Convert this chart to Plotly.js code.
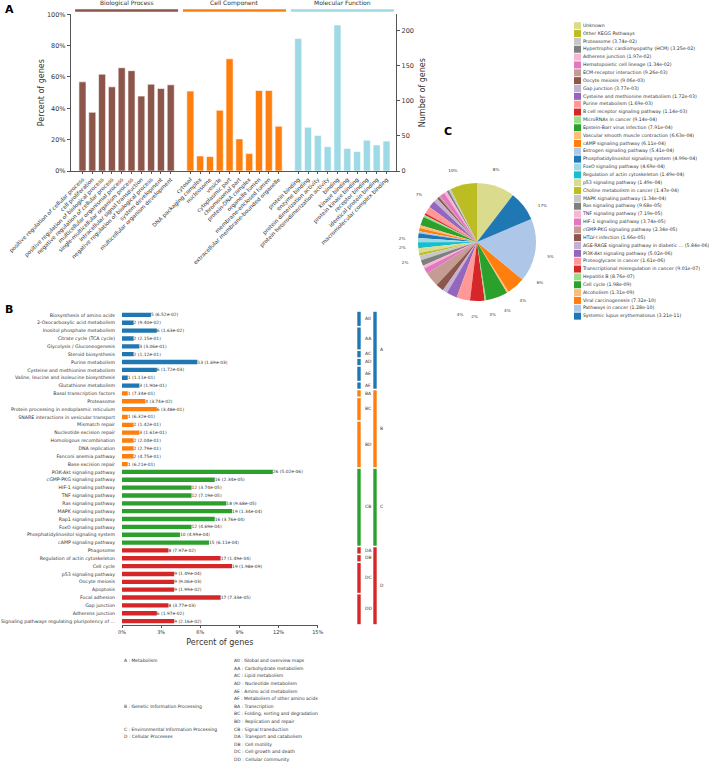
<!DOCTYPE html>
<html><head><meta charset="utf-8">
<script src="https://cdn.plot.ly/plotly-3.0.1.min.js"></script>
<style>html,body{margin:0;padding:0;background:#fff}#chart{width:709px;height:765px}</style>
</head><body><div id="chart"></div>
<script>
// ---------- Panel A : GO terms ----------
const goGroups = ['Biological Process', 'Cell Component', 'Molecular Function'];
const bpTerms = ['positive regulation of cellular process', 'cell proliferation', 'positive regulation of biological process', 'negative regulation of cellular process', 'multicellular organismal process', 'single-multicellular organism process', 'intracellular signal transduction', 'negative regulation of biological process', 'system development', 'multicellular organism development'];
const bpPct = [56.9, 37.5, 61.8, 53.7, 65.9, 64.0, 47.8, 55.4, 52.7, 55.0];
const ccTerms = ['cytosol', 'DNA packaging complex', 'nucleosome', 'vesicle', 'cytoplasmic part', 'chromosomal part', 'protein-DNA complex', 'organelle lumen', 'membrane-enclosed lumen', 'extracellular membrane-bounded organelle'];
const ccPct = [51.0, 9.6, 9.2, 38.8, 71.6, 20.5, 11.1, 51.4, 51.4, 28.6];
const mfTerms = ['protein binding', 'enzyme binding', 'protein dimerization activity', 'protein heterodimerization activity', 'binding', 'kinase binding', 'protein kinase binding', 'receptor binding', 'identical protein binding', 'macromolecular complex binding'];
const mfPct = [84.6, 27.9, 22.6, 15.5, 93.2, 14.4, 12.4, 19.7, 16.6, 19.1];
const pctTicks = [0, 20, 40, 60, 80, 100];
const geneTicks = [0, 50, 100, 150, 200];

// ---------- Panel B : KEGG classification ----------
const keggNames = ['Biosynthesis of amino acids', '2-Oxocarboxylic acid metabolism', 'Inositol phosphate metabolism', 'Citrate cycle (TCA cycle)', 'Glycolysis / Gluconeogenesis', 'Steroid biosynthesis', 'Purine metabolism', 'Cysteine and methionine metabolism', 'Valine, leucine and isoleucine biosynthesis', 'Glutathione metabolism',
  'Basal transcription factors', 'Proteasome', 'Protein processing in endoplasmic reticulum', 'SNARE interactions in vesicular transport', 'Mismatch repair', 'Nucleotide excision repair', 'Homologous recombination', 'DNA replication', 'Fanconi anemia pathway', 'Base excision repair',
  'PI3K-Akt signaling pathway', 'cGMP-PKG signaling pathway', 'HIF-1 signaling pathway', 'TNF signaling pathway', 'Ras signaling pathway', 'MAPK signaling pathway', 'Rap1 signaling pathway', 'FoxO signaling pathway', 'Phosphatidylinositol signaling system', 'cAMP signaling pathway',
  'Phagosome', 'Regulation of actin cytoskeleton', 'Cell cycle', 'p53 signaling pathway', 'Oocyte meiosis', 'Apoptosis', 'Focal adhesion', 'Gap junction', 'Adherens junction', 'Signaling pathways regulating pluripotency of ...'];
const keggCounts = [5, 2, 6, 2, 3, 2, 13, 6, 1, 3, 1, 4, 6, 1, 2, 3, 2, 2, 2, 1, 26, 16, 12, 12, 18, 19, 16, 12, 10, 15, 8, 17, 19, 9, 9, 9, 17, 8, 6, 9];
const keggPval = ['6.52e-02', '9.40e-02', '1.63e-02', '2.15e-01', '3.06e-01', '1.12e-01', '1.69e-03', '1.72e-03', '1.11e-01', '1.90e-01', '7.34e-01', '3.74e-02', '3.48e-01', '6.32e-01', '1.42e-01', '1.61e-01', '2.04e-01', '2.79e-01', '4.75e-01', '6.21e-01', '5.02e-06', '2.34e-05', '3.74e-05', '7.19e-05', '9.68e-05', '1.34e-04', '3.76e-04', '4.69e-04', '4.99e-04', '6.11e-04', '7.97e-02', '1.49e-04', '1.98e-09', '1.49e-04', '9.06e-03', '1.99e-02', '7.33e-05', '3.77e-03', '1.97e-02', '2.16e-02'];
const keggPct = [2.22, 0.89, 2.67, 0.89, 1.33, 0.89, 5.78, 2.67, 0.44, 1.33, 0.44, 1.78, 2.67, 0.44, 0.89, 1.33, 0.89, 0.89, 0.89, 0.44, 11.56, 7.11, 5.33, 5.33, 8.00, 8.44, 7.11, 5.33, 4.44, 6.67, 3.56, 7.56, 8.44, 4.00, 4.00, 4.00, 7.56, 3.56, 2.67, 4.00];
const bTicks = [0, 3, 6, 9, 12, 15];
const level1Codes = ['A', 'B', 'C', 'D'];
const level1Desc = ['Metabolism', 'Genetic Information Processing', 'Environmental Information Processing', 'Cellular Processes'];
const level1Start = [0, 10, 20, 30];
const level1End = [9, 19, 29, 39];
const level2Codes = ['A0', 'AA', 'AC', 'AD', 'AE', 'AF', 'BA', 'BC', 'BD', 'CB', 'DA', 'DB', 'DC', 'DD'];
const level2Desc = ['Global and overview maps', 'Carbohydrate metabolism', 'Lipid metabolism', 'Nucleotide metabolism', 'Amino acid metabolism', 'Metabolism of other amino acids', 'Transcription', 'Folding, sorting and degradation', 'Replication and repair', 'Signal transduction', 'Transport and catabolism', 'Cell motility', 'Cell growth and death', 'Cellular community'];
const level2Start = [0, 2, 5, 6, 7, 9, 10, 11, 14, 20, 30, 31, 32, 36];
const level2End = [1, 4, 5, 6, 8, 9, 10, 13, 19, 29, 30, 31, 35, 39];

// ---------- Panel C : KEGG enrichment pie ----------
const pieNames = ['Unknown', 'Other KEGG Pathways', 'Proteasome (3.74e-02)', 'Hypertrophic cardiomyopathy (HCM) (3.25e-02)', 'Adherens junction (1.97e-02)', 'Hematopoietic cell lineage (1.34e-02)', 'ECM-receptor interaction (9.26e-03)', 'Oocyte meiosis (9.06e-03)', 'Gap junction (3.77e-03)', 'Cysteine and methionine metabolism (1.72e-03)', 'Purine metabolism (1.69e-03)', 'B cell receptor signaling pathway (1.14e-03)', 'MicroRNAs in cancer (9.14e-04)', 'Epstein-Barr virus infection (7.91e-04)', 'Vascular smooth muscle contraction (6.63e-04)', 'cAMP signaling pathway (6.11e-04)', 'Estrogen signaling pathway (5.41e-04)', 'Phosphatidylinositol signaling system (4.99e-04)', 'FoxO signaling pathway (4.69e-04)', 'Regulation of actin cytoskeleton (1.49e-04)', 'p53 signaling pathway (1.49e-04)', 'Choline metabolism in cancer (1.47e-04)', 'MAPK signaling pathway (1.34e-04)', 'Ras signaling pathway (9.68e-05)', 'TNF signaling pathway (7.19e-05)', 'HIF-1 signaling pathway (3.74e-05)', 'cGMP-PKG signaling pathway (2.34e-05)', 'HTLV-I infection (1.66e-05)', 'AGE-RAGE signaling pathway in diabetic ... (5.84e-06)', 'PI3K-Akt signaling pathway (5.02e-06)', 'Proteoglycans in cancer (1.61e-06)', 'Transcriptional misregulation in cancer (9.01e-07)', 'Hepatitis B (8.76e-07)', 'Cell cycle (1.98e-09)', 'Alcoholism (1.31e-09)', 'Viral carcinogenesis (7.32e-10)', 'Pathways in cancer (1.28e-10)', 'Systemic lupus erythematosus (3.21e-11)'];
const pieValues = [10.4, 7.4, 0.6, 0.6, 0.8, 1.4, 0.4, 0.6, 1.2, 1.9, 2.0, 0.5, 0.6, 2.4, 0.8, 0.9, 0.5, 1.3, 1.2, 1.6, 1.3, 0.7, 1.3, 1.6, 0.8, 1.6, 4.0, 2.2, 1.3, 2.9, 3.7, 4.0, 0.4, 6.0, 0.5, 5.0, 17.4, 8.2];
const pieText = ['10%', '7%', '', '', '', '', '', '', '', '2%', '2%', '', '', '2%', '', '', '', '', '', '', '', '', '', '', '', '', '4%', '2%', '', '3%', '4%', '4%', '', '6%', '', '5%', '17%', '8%'];
const tab20 = ['#1f77b4', '#aec7e8', '#ff7f0e', '#ffbb78', '#2ca02c', '#98df8a', '#d62728', '#ff9896', '#9467bd', '#c5b0d5', '#8c564b', '#c49c94', '#e377c2', '#f7b6d2', '#7f7f7f', '#c7c7c7', '#bcbd22', '#dbdb8d', '#17becf', '#9edae5'];

// ---------- styling ----------
const W = 709, H = 765;
const px = x => x / W, py = y => 1 - y / H;
const FONT = 'DejaVu Sans', TXT = '#333', AX = '#555';
const goColors = ['#8c564b', '#ff7f0e', '#9edae5'];
const level1Colors = ['#1f77b4', '#ff7f0e', '#2ca02c', '#d62728'];
const PIE_CX = 477, PIE_CY = 242, PIE_R = 59, LBL_BOX = 1.5;

const traces = [];
const shapes = [];
const annotations = [];

// Panel A bars
const goSets = [[bpTerms, bpPct], [ccTerms, ccPct], [mfTerms, mfPct]];
const aTickVals = [], aTickText = [];
goSets.forEach((s, g) => {
  const xs = s[0].map((_, i) => g * 11 + i);
  aTickVals.push(...xs); aTickText.push(...s[0]);
  traces.push({type: 'bar', x: xs, y: s[1], xaxis: 'x', yaxis: 'y', width: 0.72,
    marker: {color: goColors[g], line: {color: '#fff', width: 0.6}}, name: goGroups[g], showlegend: false});
  shapes.push({type: 'line', xref: 'x', yref: 'paper', x0: g * 11 - 0.75, x1: g * 11 + s[0].length - 0.25,
    y0: py(10.5), y1: py(10.5), line: {color: goColors[g], width: 2.5}});
  annotations.push({xref: 'x', yref: 'paper', x: g * 11 + (s[0].length - 1) / 2, y: py(3), text: goGroups[g],
    showarrow: false, font: {size: 6, color: TXT}, yanchor: 'middle'});
});
traces.push({type: 'scatter', x: [], y: [], xaxis: 'x', yaxis: 'y2', showlegend: false});

// Panel B bars
const rowIdx = keggNames.map((_, i) => i);
const groupOf = i => level1Start.findIndex((s, k) => i >= s && i <= level1End[k]);
traces.push({type: 'bar', orientation: 'h', y: rowIdx, x: keggPct, xaxis: 'x2', yaxis: 'y3', width: 0.55,
  marker: {color: rowIdx.map(i => level1Colors[groupOf(i)])},
  text: rowIdx.map(i => keggCounts[i] + ' (' + keggPval[i] + ')'), textposition: 'outside',
  textfont: {size: 4.4, color: TXT, family: FONT}, cliponaxis: false, constraintext: 'none', showlegend: false});

// Panel B brackets
traces.push({type: 'bar', x: level2Codes.map(() => 9), base: level2Start.map(s => s - 0.4),
  y: level2Start.map((s, i) => level2End[i] - s + 0.8), width: 3.4, xaxis: 'x3', yaxis: 'y3',
  marker: {color: level2Start.map(s => level1Colors[groupOf(s)])}, showlegend: false, hoverinfo: 'skip'});
traces.push({type: 'bar', x: level1Codes.map(() => 25), base: level1Start.map(s => s - 0.4),
  y: level1Start.map((s, i) => level1End[i] - s + 0.8), width: 3.4, xaxis: 'x3', yaxis: 'y3',
  marker: {color: level1Colors}, showlegend: false, hoverinfo: 'skip'});
traces.push({type: 'scatter', mode: 'text', x: level2Codes.map(() => 15), y: level2Start.map((s, i) => (s + level2End[i]) / 2),
  text: level2Codes, textposition: 'middle right', textfont: {size: 4.5, color: TXT, family: FONT},
  xaxis: 'x3', yaxis: 'y3', cliponaxis: false, showlegend: false, hoverinfo: 'skip'});
traces.push({type: 'scatter', mode: 'text', x: level1Codes.map(() => 30), y: level1Start.map((s, i) => (s + level1End[i]) / 2),
  text: level1Codes, textposition: 'middle right', textfont: {size: 4.5, color: TXT, family: FONT},
  xaxis: 'x3', yaxis: 'y3', cliponaxis: false, showlegend: false, hoverinfo: 'skip'});

// Panel B class descriptions
const descRow = 7.6;
level1Codes.forEach((c, k) => {
  const row = level2Start.indexOf(level1Start[k]);
  annotations.push({xref: 'paper', yref: 'paper', x: px(122), y: py(660.7 + row * descRow), xanchor: 'left', yanchor: 'middle',
    text: c + ' : ' + level1Desc[k], showarrow: false, font: {size: 4.5, color: TXT}});
});
level2Codes.forEach((c, k) => {
  annotations.push({xref: 'paper', yref: 'paper', x: px(231.7), y: py(660.7 + k * descRow), xanchor: 'left', yanchor: 'middle',
    text: c + ' : ' + level2Desc[k], showarrow: false, font: {size: 4.5, color: TXT}});
});

// Panel C pie
const pieColors = pieNames.map((_, i) => tab20[(pieNames.length - 1 - i) % 20]);
traces.push({type: 'pie', labels: pieNames, values: pieValues, sort: false, direction: 'counterclockwise', rotation: 0,
  marker: {colors: pieColors, line: {width: 0}}, textinfo: 'none', showlegend: false, hoverinfo: 'label+percent',
  domain: {x: [px(PIE_CX - PIE_R), px(PIE_CX + PIE_R)], y: [py(PIE_CY + PIE_R), py(PIE_CY - PIE_R)]}});
const pieTotal = pieValues.reduce((a, b) => a + b, 0);
let cum = 0;
const lblX = [], lblY = [];
pieValues.forEach(v => {
  const th = (cum + v / 2) / pieTotal * 2 * Math.PI;
  lblX.push(-1.27 * Math.sin(th)); lblY.push(1.27 * Math.cos(th));
  cum += v;
});
traces.push({type: 'scatter', mode: 'text', x: lblX, y: lblY, text: pieText, textposition: 'middle center',
  textfont: {size: 4.2, color: TXT, family: FONT}, xaxis: 'x4', yaxis: 'y4', cliponaxis: false, showlegend: false, hoverinfo: 'skip'});

// Panel C legend
traces.push({type: 'scatter', mode: 'markers+text', x: pieNames.map(() => 577.5), y: pieNames.map((_, i) => i),
  marker: {symbol: 'square', size: 7, color: pieColors, line: {width: 0}}, text: pieNames, textposition: 'middle right',
  textfont: {size: 4.7, color: TXT, family: FONT}, xaxis: 'x5', yaxis: 'y5', cliponaxis: false, showlegend: false, hoverinfo: 'skip'});

// panel letters
[['A', 9, 10], ['B', 9, 309], ['C', 448, 131]].forEach(p => {
  annotations.push({xref: 'paper', yref: 'paper', x: px(p[1]), y: py(p[2]), text: '<b>' + p[0] + '</b>', showarrow: false,
    font: {size: 11, color: '#000', family: FONT}, xanchor: 'center', yanchor: 'middle'});
});

const LB = PIE_R * LBL_BOX;
const layout = {
  width: W, height: H, margin: {l: 0, r: 0, t: 0, b: 0}, paper_bgcolor: '#fff', plot_bgcolor: 'rgba(0,0,0,0)',
  showlegend: false, barmode: 'overlay', font: {family: FONT, color: TXT},
  xaxis: {domain: [px(71), px(396)], anchor: 'y', range: [-1.17, 31.97], tickmode: 'array', tickvals: aTickVals, ticktext: aTickText,
    tickangle: -45, tickfont: {size: 5.5, color: TXT}, showline: true, linecolor: AX, linewidth: 1.2, ticks: 'outside', ticklen: 2,
    tickcolor: AX, showgrid: false, zeroline: false},
  yaxis: {domain: [py(171), py(14.3)], anchor: 'x', range: [0, 100], tickmode: 'array', tickvals: pctTicks, ticktext: pctTicks.map(v => v + '%'),
    tickfont: {size: 6.5, color: TXT}, showline: true, linecolor: AX, linewidth: 1.2, ticks: 'outside', ticklen: 3, tickcolor: AX,
    showgrid: false, zeroline: false, title: {text: 'Percent of genes', font: {size: 8, color: TXT}, standoff: 1}},
  yaxis2: {overlaying: 'y', anchor: 'x', side: 'right', range: [0, 222.7], tickmode: 'array', tickvals: geneTicks,
    tickfont: {size: 6.5, color: TXT}, showline: true, linecolor: AX, linewidth: 1.2, ticks: 'outside', ticklen: 3, tickcolor: AX,
    showgrid: false, zeroline: false, title: {text: 'Number of genes', font: {size: 8, color: TXT}, standoff: 6}},
  xaxis2: {domain: [px(122), px(317.7)], anchor: 'y3', range: [0, 15], tickmode: 'array', tickvals: bTicks, ticktext: bTicks.map(v => v + '%'),
    tickfont: {size: 5, color: TXT}, showline: true, linecolor: AX, linewidth: 1, ticks: 'outside', ticklen: 2, tickcolor: AX,
    showgrid: false, zeroline: false, title: {text: 'Percent of genes', font: {size: 8, color: TXT}, standoff: 5}},
  yaxis3: {domain: [py(625), py(311)], anchor: 'x2', range: [39.5, -0.5], tickmode: 'array', tickvals: rowIdx, ticktext: keggNames,
    tickfont: {size: 4.7, color: TXT}, showline: false, ticks: '', ticklabelstandoff: 6, showgrid: false, zeroline: false},
  xaxis3: {domain: [px(350), px(390)], anchor: 'y3', range: [0, 40], visible: false},
  xaxis4: {domain: [px(PIE_CX - LB), px(PIE_CX + LB)], anchor: 'y4', range: [-LBL_BOX, LBL_BOX], visible: false},
  yaxis4: {domain: [py(PIE_CY + LB), py(PIE_CY - LB)], anchor: 'x4', range: [-LBL_BOX, LBL_BOX], visible: false},
  xaxis5: {domain: [px(570), 1], anchor: 'y5', range: [570, 709], visible: false},
  yaxis5: {domain: [0, 1], anchor: 'x5', range: [(H - 25.7) / 7.85, -25.7 / 7.85], visible: false},
  shapes: shapes, annotations: annotations
};
Plotly.newPlot('chart', traces, layout, {displayModeBar: false, staticPlot: true});
</script></body></html>
